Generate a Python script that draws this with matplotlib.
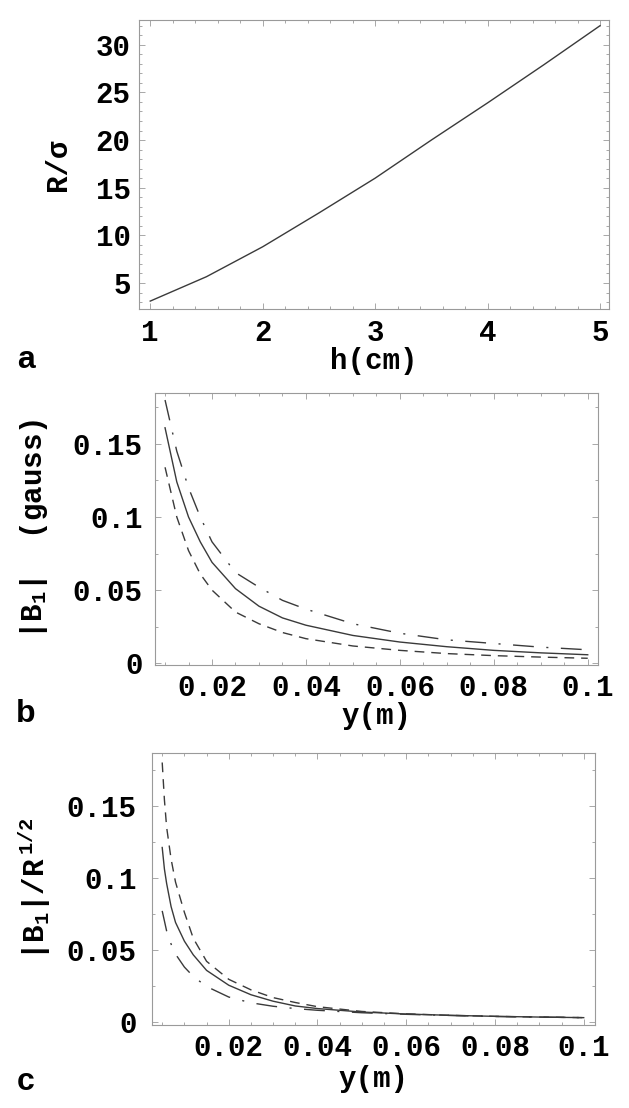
import matplotlib
matplotlib.use("Agg")
import matplotlib.pyplot as plt
from matplotlib.ticker import MultipleLocator, FuncFormatter

W, H = 629, 1108
MONO = ["Liberation Mono", "DejaVu Sans Mono"]
plt.rcParams["font.family"] = MONO
plt.rcParams["font.weight"] = "bold"
plt.rcParams["mathtext.fontset"] = "custom"
plt.rcParams["mathtext.rm"] = "Liberation Mono:bold"
plt.rcParams["mathtext.it"] = "Liberation Mono:bold"
plt.rcParams["mathtext.bf"] = "Liberation Mono:bold"

# panel a: R/sigma against h
h_cm = [1.0, 1.5, 2.0, 2.5, 3.0, 3.5, 4.0, 4.5, 5.0]
r_sigma = [3.1, 5.66, 8.8, 12.35, 16.0, 20.0, 23.9, 27.9, 32.0]

# panel b: |B1| (gauss) against y
y_b = [0.010, 0.0125, 0.015, 0.0175, 0.02, 0.025, 0.03, 0.035, 0.04,
       0.05, 0.06, 0.07, 0.08, 0.09, 0.10]
b_solid = [0.161, 0.124, 0.100, 0.083, 0.069, 0.051, 0.039, 0.031, 0.026,
           0.019, 0.0145, 0.0113, 0.0088, 0.0071, 0.0058]
b_dashed = [0.134, 0.100, 0.077, 0.061, 0.050, 0.035, 0.027, 0.021, 0.0168,
            0.0118, 0.0088, 0.0066, 0.0052, 0.0042, 0.0034]
b_dashdot = [0.180, 0.145, 0.120, 0.100, 0.083, 0.062, 0.052, 0.043, 0.037,
             0.027, 0.0205, 0.016, 0.0135, 0.011, 0.0092]

# panel c: |B1|/R^(1/2) against y
y_c = [0.005, 0.0055, 0.006, 0.007, 0.008, 0.01, 0.012, 0.015, 0.02, 0.025,
       0.03, 0.035, 0.04, 0.05, 0.06, 0.07, 0.08, 0.09, 0.10]
c_solid = [0.121, 0.106, 0.096, 0.080, 0.069, 0.056, 0.0465, 0.0357, 0.0254,
           0.0188, 0.0143, 0.011, 0.0092, 0.0068, 0.0054, 0.0045, 0.0038,
           0.0033, 0.0029]
c_dashed = [0.180, 0.154, 0.135, 0.113, 0.097, 0.076, 0.058, 0.042, 0.0295,
            0.0222, 0.0168, 0.0134, 0.0105, 0.0072, 0.0055, 0.0045, 0.0038,
            0.0033, 0.0029]
c_dashdot = [0.077, 0.070, 0.063, 0.054, 0.047, 0.038, 0.0315, 0.0245, 0.0172,
             0.0132, 0.0108, 0.0092, 0.0080, 0.0063, 0.0052, 0.0044, 0.0037,
             0.0033, 0.0029]

LINE = "#3a3a3a"
FRAME = "#9a9a9a"
TICK_FS = 21
LABEL_FS = 21


def box(left, top, right, bottom):
    return [left / W, 1 - bottom / H, (right - left) / W, (bottom - top) / H]


def style(ax, xmaj, xmin, ymaj, ymin, xpad, ypad):
    for s in ax.spines.values():
        s.set_color(FRAME)
        s.set_linewidth(0.8)
    ax.xaxis.set_major_locator(MultipleLocator(xmaj))
    ax.xaxis.set_minor_locator(MultipleLocator(xmin))
    ax.yaxis.set_major_locator(MultipleLocator(ymaj))
    ax.yaxis.set_minor_locator(MultipleLocator(ymin))
    ax.tick_params(which="both", direction="in", top=True, right=True,
                   color=FRAME, width=0.6, labelsize=TICK_FS)
    ax.tick_params(which="major", length=4)
    ax.tick_params(which="minor", length=2)
    ax.tick_params(axis="x", pad=xpad)
    ax.tick_params(axis="y", pad=ypad)
    fmt = FuncFormatter(lambda v, p: "0" if abs(v) < 1e-12 else "{:g}".format(round(v, 6)))
    ax.xaxis.set_major_formatter(fmt)
    ax.yaxis.set_major_formatter(fmt)


fig = plt.figure(figsize=(W / 100, H / 100), dpi=100)

# ---- panel a
ax_a = fig.add_axes(box(139, 20, 609, 309))
ax_a.plot(h_cm, r_sigma, color=LINE, lw=1.0)
ax_a.set_xlim(0.9, 5.08)
ax_a.set_ylim(2.27, 32.6)
style(ax_a, 1, 0.2, 5, 1, 7, 6)
ax_a.set_xlabel("h(cm)", fontsize=LABEL_FS, fontweight="bold")
ax_a.xaxis.set_label_coords(0.5, -0.18)
ax_a.xaxis.label.set_va("center")
ax_a.set_ylabel("R/σ", fontsize=LABEL_FS, fontweight="bold")
ax_a.yaxis.set_label_coords(-0.172, 0.5)
ax_a.yaxis.label.set_va("center")

# ---- panel b
ax_b = fig.add_axes(box(155, 392.7, 597.6, 664.7))
ax_b.plot(y_b, b_solid, color=LINE, lw=1.0)
ax_b.plot(y_b, b_dashed, color=LINE, lw=1.0, dashes=(7, 5))
ax_b.plot(y_b, b_dashdot, color=LINE, lw=1.0, dashes=(15, 9, 1.5, 9))
ax_b.set_xlim(0.00786, 0.1021)
ax_b.set_ylim(-0.001, 0.185)
style(ax_b, 0.02, 0.005, 0.05, 0.025, 7, 9)
ax_b.set_xlabel("y(m)", fontsize=LABEL_FS, fontweight="bold")
ax_b.xaxis.set_label_coords(0.5, -0.19)
ax_b.xaxis.label.set_va("center")
ax_b.set_ylabel("|B$_1$|  (gauss)", fontsize=LABEL_FS, fontweight="bold")
ax_b.yaxis.set_label_coords(-0.273, 0.5)
ax_b.yaxis.label.set_va("center")

# ---- panel c
ax_c = fig.add_axes(box(152, 752.7, 594.8, 1024.7))
ax_c.plot(y_c, c_solid, color=LINE, lw=1.0)
ax_c.plot(y_c, c_dashed, color=LINE, lw=1.0, dashes=(7, 5))
ax_c.plot(y_c, c_dashdot, color=LINE, lw=1.0, dashes=(15, 9, 1.5, 9))
ax_c.set_xlim(0.0027, 0.1025)
ax_c.set_ylim(-0.002, 0.1868)
style(ax_c, 0.02, 0.005, 0.05, 0.025, 7, 11)
ax_c.set_xlabel("y(m)", fontsize=LABEL_FS, fontweight="bold")
ax_c.xaxis.set_label_coords(0.5, -0.2)
ax_c.xaxis.label.set_va("center")
ax_c.set_ylabel("|B$_1$|/R$^{\\ 1/2}$", fontsize=LABEL_FS, fontweight="bold")
ax_c.yaxis.set_label_coords(-0.265, 0.5)
ax_c.yaxis.label.set_va("center")

# panel letters
for letter, base in [("a", 368), ("b", 722), ("c", 1090)]:
    fig.text(26 / W, 1 - base / H, letter, family=["Liberation Sans", "DejaVu Sans"],
             fontsize=23, fontweight="bold", ha="center", va="baseline")

fig.savefig("out.png", dpi=100)
